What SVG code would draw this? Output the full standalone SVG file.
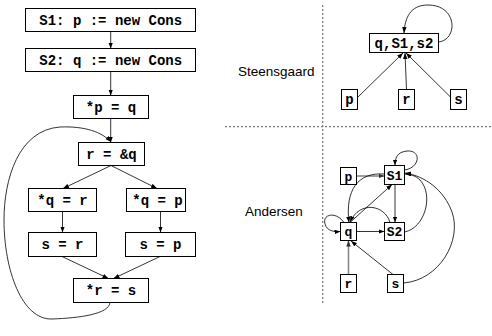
<svg xmlns="http://www.w3.org/2000/svg" width="492" height="336" viewBox="0 0 492 336">
<style>
rect.n{fill:#fff;stroke:#000;stroke-width:1}
text.c{font-family:"Liberation Mono","Courier New",monospace;font-weight:bold;font-size:14px;text-anchor:middle;fill:#000}
text.s{font-size:13px}
text.l{font-family:"Liberation Sans",Arial,sans-serif;font-size:13.5px;fill:#000}
.e{fill:none;stroke:#000;stroke-width:0.8;marker-end:url(#ah)}
.g{fill:none;stroke:#888;stroke-width:1.6;marker-end:url(#ag)}
.sep{fill:none;stroke:#777;stroke-width:1.2;stroke-dasharray:2,2}
</style>
<defs>
<marker id="ah" markerUnits="userSpaceOnUse" markerWidth="6" markerHeight="5" refX="6" refY="2.25" orient="auto"><path d="M0,0 L6,2.25 L0,4.5 z" fill="#000"/></marker>
<marker id="ag" markerUnits="userSpaceOnUse" markerWidth="6" markerHeight="5" refX="6" refY="2.25" orient="auto"><path d="M0,0 L6,2.25 L0,4.5 z" fill="#333"/></marker>
</defs>
<rect width="492" height="336" fill="#fff"/>
<g id="separators">
<line class="sep" x1="322.7" y1="5" x2="322.7" y2="305"/>
<line class="sep" x1="225" y1="126.7" x2="492" y2="126.7"/>
</g>
<text class="l" x="238" y="75.5">Steensgaard</text>
<text class="l" x="245" y="215.5">Andersen</text>
<g id="connectors">
<path class="e" d="M110.7,31.5 L110.7,48.5"/>
<path class="e" d="M110.7,71.5 L110.7,95.5"/>
<path class="e" d="M110.7,118.5 L110.7,142.5"/>
<path class="e" d="M111,165.5 L63,188.5"/>
<path class="e" d="M111,165.5 L157,188.5"/>
<path class="e" d="M62.5,211.5 L62.5,232.5"/>
<path class="e" d="M160.5,211.5 L160.5,232.5"/>
<path class="e" d="M62,256.5 L108.5,278.5"/>
<path class="e" d="M160,256.5 L113.5,278.5"/>
<path class="e" d="M110,302.5 C109,314 80,318 52,319 C22,320 4,270 4,220 C4,180 18,130 60,127 C85,126 102,132 111,142"/>
<path class="e" d="M358,97 L403,53"/>
<path class="e" d="M406.5,89.5 L405,53"/>
<path class="e" d="M450.5,97 L406,53"/>
<path class="e" d="M438.5,42 C458,40 458,5 428,5 C410,5 405,18 404,33"/>
<path class="g" d="M356.5,176 L384.5,176"/>
<path class="e" d="M404.5,170 C420,168 422,150 407,151 C397,152 395,158 395,165.5"/>
<path class="e" d="M395,184.5 L395,222.5"/>
<path class="e" d="M356.5,231.5 L384.5,231.5"/>
<path class="e" d="M350,222.5 L392,184.5"/>
<path class="e" d="M384.5,174 C358,172 345,190 349,222.5"/>
<path class="e" d="M390,222.5 C385,205 360,200 350,222"/>
<path class="e" d="M404.5,232 C425,228 434,195 420,180 C416,176 410,174 405,174"/>
<path class="e" d="M403.5,283 C440,280 462,240 452,212 C444,190 425,176 405,173"/>
<path class="e" d="M393,274.5 L351,241"/>
<path class="g" d="M348.5,274.5 L348.5,240.5"/>
<path class="e" d="M344,222.5 C336,211 322,214 325,224 C327,231 334,232 340.5,231.5"/>
</g>
<g id="n-s1"><rect class="n" x="25.5" y="8.5" width="170" height="23"/><text class="c" x="110.7" y="24.5">S1: p := new Cons</text></g>
<g id="n-s2"><rect class="n" x="25.5" y="48.5" width="170" height="23"/><text class="c" x="110.7" y="64.5">S2: q := new Cons</text></g>
<g id="n-pq"><rect class="n" x="73.5" y="95.5" width="75" height="23"/><text class="c" x="111" y="111.5">*p = q</text></g>
<g id="n-rq"><rect class="n" x="78.5" y="142.5" width="66" height="23"/><text class="c" x="111.5" y="158.5">r = &amp;q</text></g>
<g id="n-qr"><rect class="n" x="28.5" y="188.5" width="68" height="23"/><text class="c" x="62.5" y="204.5">*q = r</text></g>
<g id="n-qp"><rect class="n" x="126.5" y="188.5" width="59" height="23"/><text class="c" x="157.5" y="204.5">*q = p</text></g>
<g id="n-sr"><rect class="n" x="28.5" y="232.5" width="68" height="24"/><text class="c" x="62.5" y="249">s = r</text></g>
<g id="n-sp"><rect class="n" x="125.5" y="232.5" width="70" height="24"/><text class="c" x="160.5" y="249">s = p</text></g>
<g id="n-rs"><rect class="n" x="73.5" y="278.5" width="75" height="24"/><text class="c" x="111" y="295">*r = s</text></g>
<g id="st-q"><rect class="n" x="369.5" y="33.5" width="69" height="19"/><text class="c" x="404" y="47.5">q,S1,s2</text></g>
<g id="st-p"><rect class="n" x="341.5" y="89.5" width="16" height="20"/><text class="c" x="349.5" y="104">p</text></g>
<g id="st-r"><rect class="n" x="398.5" y="89.5" width="16" height="20"/><text class="c" x="406.5" y="104">r</text></g>
<g id="st-s"><rect class="n" x="450.5" y="89.5" width="16" height="20"/><text class="c" x="458.5" y="104">s</text></g>
<g id="an-p"><rect class="n" x="340.5" y="167.5" width="16" height="17"/><text class="c s" x="348.5" y="180.5">p</text></g>
<g id="an-s1"><rect class="n" x="384.5" y="165.5" width="20" height="19"/><text class="c s" x="394.5" y="179.5">S1</text></g>
<g id="an-q"><rect class="n" x="340.5" y="222.5" width="16" height="18"/><text class="c s" x="348.5" y="236">q</text></g>
<g id="an-s2"><rect class="n" x="384.5" y="222.5" width="20" height="18"/><text class="c s" x="394.5" y="236">S2</text></g>
<g id="an-r"><rect class="n" x="340.5" y="274.5" width="16" height="18"/><text class="c s" x="348.5" y="288">r</text></g>
<g id="an-s"><rect class="n" x="387.5" y="274.5" width="16" height="18"/><text class="c s" x="395.5" y="288">s</text></g>
</svg>
